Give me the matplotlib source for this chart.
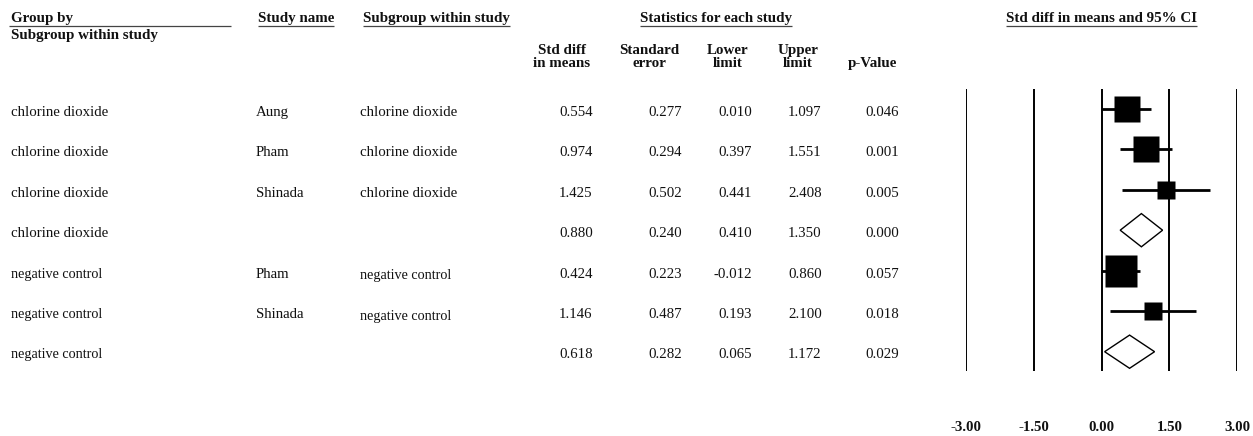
import matplotlib
matplotlib.use("Agg")
import matplotlib.pyplot as plt
from matplotlib.patches import Polygon
import numpy as np

W, H, DPI = 1253, 436, 100

# table data
group = ["chlorine dioxide"] * 4 + ["negative control"] * 3
study = ["Aung", "Pham", "Shinada", "", "Pham", "Shinada", ""]
subgroup = ["chlorine dioxide"] * 3 + [""] + ["negative control"] * 2 + [""]
std_diff = [0.554, 0.974, 1.425, 0.880, 0.424, 1.146, 0.618]
std_err = [0.277, 0.294, 0.502, 0.240, 0.223, 0.487, 0.282]
lower = [0.010, 0.397, 0.441, 0.410, -0.012, 0.193, 0.065]
upper = [1.097, 1.551, 2.408, 1.350, 0.860, 2.100, 1.172]
p_value = [0.046, 0.001, 0.005, 0.000, 0.057, 0.018, 0.029]
is_summary = [False, False, False, True, False, False, True]
ticks = [-3.0, -1.5, 0.0, 1.5, 3.0]

plt.rcParams["font.family"] = ["Liberation Serif", "DejaVu Serif"]
INK = "#111111"
FS_BODY = 10.7
FS_HEAD = 10.8

fig = plt.figure(figsize=(W / DPI, H / DPI), dpi=DPI)

# forest plot axes, placed in pixel terms
ROW0, ROWH = 108.7, 40.5
fx0, fx1, fy0, fy1 = 966.4, 1237.0, 89.3, 371.0
fax = fig.add_axes([fx0 / W, 1 - fy1 / H, (fx1 - fx0) / W, (fy1 - fy0) / H])
fax.set_xlim(-3, 3)
ytop = (fy0 - ROW0) / ROWH
ybot = (fy1 - ROW0) / ROWH
fax.set_ylim(ybot, ytop)
fax.set_frame_on(False)
fax.set_yticks([])
fax.set_xticks(ticks)
fax.set_xticklabels([f"{t:.2f}" for t in ticks], fontweight="bold", fontsize=10.7, color=INK)
fax.tick_params(axis="x", length=0, pad=36)

fax.vlines(ticks, ybot, ytop, color="black", lw=1.4, zorder=1)

for i in range(len(std_diff)):
    if is_summary[i]:
        h = 0.41
        diamond = Polygon([(lower[i], i), (std_diff[i], i - h), (upper[i], i), (std_diff[i], i + h)],
                          closed=True, facecolor="white", edgecolor="black", lw=1.0, zorder=3)
        fax.add_patch(diamond)
    else:
        fax.hlines(i, lower[i], upper[i], color="black", lw=2.0, zorder=2)
        side_px = 7.4 + 5.4 / std_err[i]   # box grows with study weight
        fax.plot(std_diff[i], i, marker="s", ms=side_px * 72 / DPI, mfc="black",
                 mec="none", linestyle="none", zorder=3)

# text overlay in pixel coordinates
tax = fig.add_axes([0, 0, 1, 1])
tax.set_xlim(0, W)
tax.set_ylim(H, 0)
tax.axis("off")

def txt(x, y, s, bold=False, ha="left", size=None):
    return tax.text(x, y, s, ha=ha, va="baseline", color=INK,
                    fontsize=size or (FS_HEAD if bold else FS_BODY),
                    fontweight="bold" if bold else "normal")

heads = [
    (txt(11, 22, "Group by", bold=True), 9, 231),
    (txt(258, 22, "Study name", bold=True), None, None),
    (txt(363, 22, "Subgroup within study", bold=True), None, None),
    (txt(716, 22, "Statistics for each study", bold=True, ha="center"), None, None),
    (txt(1101.6, 22, "Std diff in means and 95% CI", bold=True, ha="center"), None, None),
]
txt(11, 39, "Subgroup within study", bold=True)

col_heads = [("Std diff", "in means"), ("Standard", "error"), ("Lower", "limit"),
             ("Upper", "limit"), ("", "p-Value")]
col_centers = [562, 649, 728, 798, 872]
for (l1, l2), cx in zip(col_heads, col_centers):
    if l1:
        txt(cx, 54, l1, bold=True, ha="center")
    txt(cx, 67, l2, bold=True, ha="center")

num_right = [592.7, 682, 752, 821.7, 899]
for i in range(len(std_diff)):
    base = 116 + 40.4 * i
    small = group[i].startswith("negative")
    fs = 10.2 if small else FS_BODY
    txt(11, base, group[i], size=fs)
    txt(256, base, study[i])
    txt(360, base + (1.5 if small else 0), subgroup[i], size=fs)
    vals = [std_diff[i], std_err[i], lower[i], upper[i], p_value[i]]
    for v, xr in zip(vals, num_right):
        txt(xr, base, f"{v:.3f}", ha="right")

# underline header texts
fig.canvas.draw()
r = fig.canvas.get_renderer()
for t, x0, x1 in heads:
    bb = t.get_window_extent(renderer=r)
    ya = H - bb.y0 + 1.5
    tax.plot([x0 if x0 is not None else bb.x0, x1 if x1 is not None else bb.x1], [ya, ya],
             color="#444444", lw=0.9, solid_capstyle="butt")

fig.savefig("out.png", dpi=DPI)
